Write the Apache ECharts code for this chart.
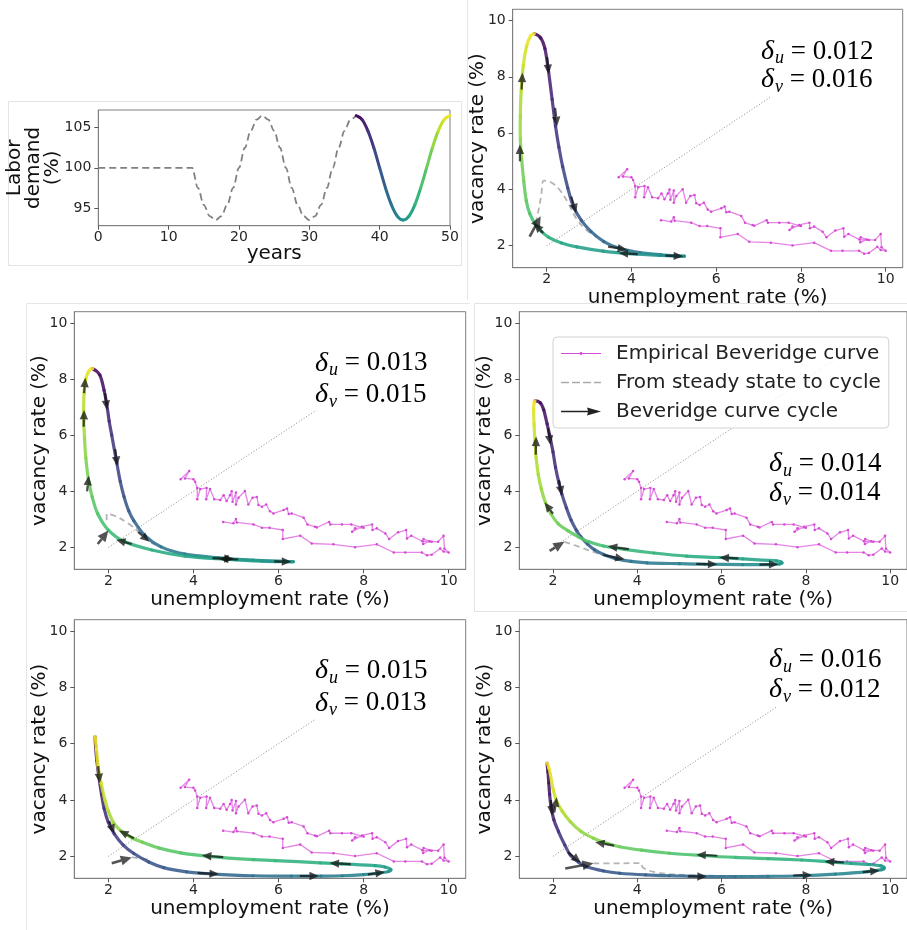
<!DOCTYPE html>
<html><head><meta charset="utf-8">
<script src="https://cdn.jsdelivr.net/npm/echarts@6/dist/echarts.min.js"></script>
<style>html,body{margin:0;padding:0;background:#fff}#c{width:907px;height:930px}</style>
</head><body><div id="c"></div>
<script>
// ---------------- DATA ----------------
// Labor demand (top-left panel)
const laborYearsDash = [0,13.33,14.17,15.0,15.83,16.67,17.5,18.33,19.17,20.0,20.83,21.67,22.5,23.33,24.17,25.0,25.83,26.67,27.5,28.33,29.17,30.0,30.83,31.67,32.5,33.33,34.17,35.0,35.83,36.67];
const laborDash      = [100,100,97.5,95.4,94.0,93.5,94.0,95.4,97.5,100,102.5,104.6,106.0,106.5,106.0,104.6,102.5,100,97.5,95.4,94.0,93.5,94.0,95.4,97.5,100,102.5,104.6,106.0,106.5];
const laborYearsCycle = [36.67,37.5,38.33,39.17,40.0,40.83,41.67,42.5,43.33,44.17,45.0,45.83,46.67,47.5,48.33,49.17,50.0];
const laborCycle      = [106.5,106.0,104.6,102.5,100,97.5,95.4,94.0,93.5,94.0,95.4,97.5,100,102.5,104.6,106.0,106.5];
const laborXTicks = [0,10,20,30,40,50];
const laborYTicks = [95,100,105];

// Empirical Beveridge curve (same in every panel)
const empU = [4.70,4.94,5.00,5.02,5.41,5.61,5.79,6.10,6.10,6.51,6.78,7.29,7.80,8.31,8.71,8.98,9.37,9.49,9.60,9.80,9.88,10.00,
  9.90,9.88,9.75,9.55,9.40,9.41,9.60,9.38,9.12,9.02,9.00,8.81,8.60,8.51,8.31,8.21,8.20,7.96,7.73,7.80,8.00,7.71,7.49,7.22,7.19,6.90,6.86,6.68,6.59,6.31,6.24,6.20,6.12,5.88,5.80,5.71,5.61,5.53,5.49,5.39,5.29,5.21,5.06,5.00,5.00,4.92,4.90,4.86,4.78,4.71,4.63,4.49,4.39,4.30,4.31,4.16,4.09,4.09,4.04,4.00,3.80,3.90,3.70];
const empV = [2.91,2.86,3.01,2.89,2.82,2.70,2.70,2.62,2.30,2.42,2.14,2.11,2.01,2.11,1.82,1.82,1.82,1.72,1.74,1.96,1.85,1.82,
  1.95,2.42,2.20,2.22,2.12,2.30,2.20,2.22,2.42,2.32,2.62,2.54,2.30,2.50,2.68,2.62,2.82,2.74,2.56,2.68,2.70,2.82,2.82,2.82,2.91,2.71,2.74,2.82,3.06,3.21,3.19,3.39,3.33,3.21,3.29,3.53,3.45,3.51,3.80,3.77,3.53,4.01,3.77,3.53,3.96,3.63,4.00,3.86,3.65,3.86,3.69,3.72,4.08,3.72,4.12,4.08,3.72,4.12,4.34,4.43,4.46,4.72,4.43];

const bevTicks = [2,4,6,8,10];
const deltaU = ['0.012','0.013','0.014','0.015','0.016'];
const deltaV = ['0.016','0.015','0.014','0.013','0.012'];
const diagEnd = [7.28,6.89,8.7,6.86,7.33];

// Cycles (start at demand peak, down the first branch, back along the return branch)
const cycleP1 = [[1.71,9.53],[1.86,9.38],[1.96,9.0],[2.04,8.25],[2.13,7.2],[2.21,6.25],[2.29,5.5],[2.38,4.8],[2.5,4.05],[2.63,3.4],[2.82,2.9],[3.05,2.5],[3.35,2.15],[3.7,1.92],[4.2,1.76],[4.7,1.68],[5.25,1.63],
  [4.66,1.66],[3.96,1.72],[3.33,1.81],[2.71,1.96],[2.35,2.1],[2.05,2.3],[1.88,2.5],[1.74,2.75],[1.6,3.15],[1.52,3.6],[1.46,4.3],[1.41,5.1],[1.38,5.8],[1.38,6.6],[1.4,7.5],[1.45,8.4],[1.53,9.1],[1.62,9.45],[1.71,9.53]];
const cycleP2 = [[1.63,8.37],[1.8,8.14],[1.9,7.6],[1.96,7.13],[2.02,6.5],[2.08,6.0],[2.2,5.0],[2.28,4.35],[2.37,3.8],[2.48,3.3],[2.6,2.95],[2.86,2.42],[3.24,2.02],[3.8,1.76],[4.6,1.63],[5.4,1.55],[6.35,1.49],
  [5.6,1.51],[4.75,1.58],[3.8,1.69],[3.02,1.91],[2.39,2.2],[2.0,2.62],[1.75,3.2],[1.62,3.8],[1.53,4.45],[1.47,5.2],[1.44,5.9],[1.42,6.7],[1.43,7.5],[1.47,8.0],[1.55,8.3],[1.63,8.37]];
const cycleP3 = [[1.57,7.22],[1.7,7.15],[1.78,6.9],[1.86,6.4],[1.92,6.0],[2.0,5.4],[2.06,4.85],[2.14,4.3],[2.21,3.9],[2.32,3.4],[2.43,2.97],[2.55,2.62],[2.66,2.38],[2.82,2.12],[2.98,1.92],[3.2,1.75],[3.45,1.62],[3.85,1.5],[4.23,1.45],[5.0,1.42],[5.6,1.4],[6.5,1.39],[7.12,1.39],[7.38,1.41],
  [7.43,1.46],[7.3,1.52],[6.5,1.59],[5.95,1.64],[5.17,1.69],[4.39,1.8],[3.7,1.93],[3.2,2.05],[2.85,2.2],[2.6,2.38],[2.35,2.6],[2.12,2.85],[1.95,3.2],[1.82,3.6],[1.72,4.1],[1.65,4.6],[1.6,5.2],[1.57,5.8],[1.55,6.4],[1.54,6.9],[1.55,7.15],[1.57,7.22]];
const cycleP4 = [[1.69,6.25],[1.7,5.9],[1.73,5.4],[1.78,4.8],[1.84,4.2],[1.9,3.7],[2.0,3.2],[2.14,2.8],[2.35,2.4],[2.6,2.1],[2.95,1.8],[3.3,1.6],[3.84,1.45],[4.4,1.38],[5.4,1.31],[6.3,1.3],[7.0,1.3],[7.5,1.31],[8.0,1.35],[8.35,1.4],[8.58,1.46],
  [8.64,1.53],[8.5,1.62],[8.27,1.67],[7.49,1.73],[6.98,1.77],[5.92,1.85],[5.41,1.88],[4.35,2.0],[3.7,2.12],[3.18,2.3],[2.8,2.5],[2.55,2.66],[2.3,2.9],[2.12,3.2],[2.0,3.6],[1.92,4.0],[1.83,4.6],[1.76,5.2],[1.72,5.8],[1.69,6.25]];
const cycleP5 = [[1.86,5.3],[1.88,5.0],[1.9,4.6],[1.92,4.2],[1.95,3.8],[2.02,3.3],[2.13,2.88],[2.28,2.4],[2.41,2.05],[2.6,1.8],[2.8,1.63],[3.2,1.48],[3.58,1.4],[4.2,1.34],[4.76,1.31],[5.5,1.29],[6.33,1.28],[7.1,1.29],[7.9,1.31],[8.7,1.37],[9.47,1.46],[9.8,1.53],
  [9.86,1.59],[9.78,1.66],[9.5,1.71],[9.07,1.75],[8.5,1.81],[7.9,1.87],[7.1,1.92],[6.33,1.96],[5.5,2.03],[4.76,2.11],[4.1,2.22],[3.58,2.34],[3.2,2.5],[2.96,2.64],[2.65,2.9],[2.41,3.23],[2.22,3.6],[2.09,3.94],[2.0,4.4],[1.94,4.89],[1.9,5.15],[1.86,5.3]];

// Transients: from steady state to cycle
const transP1 = [[1.74,2.8],[1.8,3.2],[1.87,3.75],[1.94,4.31],[2.12,4.24],[2.31,3.98],[2.51,3.51],[2.7,2.97],[2.94,2.56],[3.18,2.32]];
const transP2 = [[1.96,2.97],[1.96,3.2],[2.16,3.12],[2.47,2.85],[2.71,2.56],[2.9,2.28],[3.1,2.1]];
const transP3 = [[2.27,2.2],[2.7,1.98],[3.2,1.72],[3.5,1.62]];
const transP4 = [[2.55,1.96],[2.8,1.92],[3.02,1.86]];
const transP5 = [[2.96,1.75],[3.5,1.75],[4.09,1.76],[4.13,1.6],[4.45,1.43],[5.15,1.34],[6.33,1.29],[7.0,1.29]];

// Arrows on the cycles [u_from, v_from, u_to, v_to]
const arrowsP1 = [[1.37,5.0,1.37,5.6],[1.41,7.55,1.43,8.15],[2.01,8.7,2.05,8.1],[2.2,6.9,2.25,6.25],[2.58,3.75,2.7,3.15],[3.45,1.97,3.9,1.86],[4.15,1.7,3.7,1.74],[4.8,1.65,5.22,1.63],[1.92,2.45,1.7,2.8]];
const arrowsP2 = [[1.43,7.5,1.46,8.05],[1.42,6.3,1.43,6.9],[1.5,4.0,1.54,4.55],[1.92,7.5,1.97,6.9],[2.16,5.5,2.21,4.9],[2.55,2.12,2.18,2.27],[2.7,2.55,2.97,2.2],[4.45,1.62,4.95,1.59],[5.05,1.57,4.6,1.6],[5.9,1.5,6.3,1.49]];
const arrowsP3 = [[1.59,5.3,1.6,5.95],[2.0,3.2,1.8,3.6],[1.88,6.25,1.94,5.65],[2.14,4.4,2.21,3.85],[3.8,1.94,3.3,2.04],[3.2,1.73,3.7,1.58],[6.4,1.61,5.95,1.64],[5.4,1.41,5.9,1.4],[6.9,1.39,7.35,1.4]];
const arrowsP4 = [[1.76,5.2,1.8,4.6],[2.02,3.25,2.14,2.8],[2.6,2.64,2.25,2.92],[4.7,1.97,4.2,2.03],[7.7,1.72,7.2,1.76],[4.1,1.41,4.6,1.37],[6.5,1.3,6.95,1.3],[8.1,1.36,8.5,1.44]];
const arrowsP5 = [[2.03,3.55,2.09,4.1],[1.95,4.0,1.98,3.45],[2.35,2.15,2.66,1.78],[3.45,2.38,3.0,2.5],[5.9,2.02,5.4,2.06],[8.9,1.78,8.45,1.82],[9.35,1.44,9.75,1.5],[7.7,1.32,8.15,1.34],[5.2,1.29,5.65,1.28]];
const startArrows = [[[1.6,2.32,1.86,3.05]],[[1.75,2.12,2.0,2.6]],[[1.92,1.88,2.27,2.2]],[[2.08,1.75,2.55,1.96]],[[2.29,1.57,2.96,1.75]]];

// ---------------- HELPERS ----------------
const FONT = 'DejaVu Sans';
const VIR = ['#440154','#482475','#414487','#355f8d','#2a788e','#21918c','#22a884','#44bf70','#7ad151','#bddf26','#fde725'];
function h2r(h){return [parseInt(h.slice(1,3),16),parseInt(h.slice(3,5),16),parseInt(h.slice(5,7),16)];}
function vir(t){t=Math.max(0,Math.min(1,t));const x=t*10;const i=Math.min(9,Math.floor(x));const f=x-i;const a=h2r(VIR[i]),b=h2r(VIR[i+1]);return 'rgb('+a.map((v,k)=>Math.round(v+(b[k]-v)*f)).join(',')+')';}

function smoothRender(pts, closed, width, opacity){
  return function(params, api){
    const n = pts.length, i = params.dataIndex;
    if (i >= n-1) return null;
    const idx = k => { if (closed){ const m=n-1; return ((k%m)+m)%m; } return Math.max(0,Math.min(n-1,k)); };
    const c = k => api.coord(pts[idx(k)]);
    const p0=c(i-1), p1=c(i), p2=c(i+1), p3=c(i+2);
    const cp1=[p1[0]+(p2[0]-p0[0])/6, p1[1]+(p2[1]-p0[1])/6];
    const cp2=[p2[0]-(p3[0]-p1[0])/6, p2[1]-(p3[1]-p1[1])/6];
    return {type:'bezierCurve', shape:{x1:p1[0],y1:p1[1],x2:p2[0],y2:p2[1],cpx1:cp1[0],cpy1:cp1[1],cpx2:cp2[0],cpy2:cp2[1]},
      style:{stroke:vir((i+0.5)/(n-1)), lineWidth:width, fill:'none', lineCap:'round', opacity:opacity}};
  };
}
function arrowRender(headLen, headW, shaftW, op){
  return function(params, api){
    const a=api.coord([api.value(0),api.value(1)]), b=api.coord([api.value(2),api.value(3)]);
    const dx=b[0]-a[0], dy=b[1]-a[1], L=Math.hypot(dx,dy)||1, ux=dx/L, uy=dy/L, nx=-uy, ny=ux;
    const bx=b[0]-ux*headLen, by=b[1]-uy*headLen;
    return {type:'group', children:[
      {type:'line', shape:{x1:a[0],y1:a[1],x2:bx,y2:by}, style:{stroke:'#111',lineWidth:shaftW,opacity:op}},
      {type:'polygon', shape:{points:[[b[0],b[1]],[bx+nx*headW,by+ny*headW],[bx-nx*headW,by-ny*headW]]}, style:{fill:'#111',opacity:op}}
    ]};
  };
}

// ---------------- LAYOUT ----------------
const gridBoxes = [[98.3,110,351.7,115.7],[512.7,9.3,390,258.4],[74.3,311.7,391.4,257.6],[519.3,311.7,390,257.6],[74.3,619.7,391.4,258.6],[519.3,619.7,390,258.6]];
const deltaPos = [[761,51.7,80],[315,363.3,395],[769,464,493.3],[315,671,703.3],[769,660,690]];

const grids = gridBoxes.map(g => ({left:g[0], top:g[1], width:g[2], height:g[3], show:true, borderColor:'#7f7f7f', borderWidth:1, containLabel:false}));

const axLabel = {fontSize:14, color:'#262626', fontFamily:FONT};
const xAxes = [], yAxes = [];
xAxes.push({type:'value', gridIndex:0, min:0, max:50, interval:10, name:'years', nameLocation:'middle', nameGap:18, nameMoveOverlap:false,
  nameTextStyle:{fontSize:20, color:'#111', fontFamily:FONT},
  axisLine:{show:true, lineStyle:{color:'#7f7f7f'}}, axisTick:{show:true, length:4, lineStyle:{color:'#555'}, customValues:laborXTicks},
  axisLabel:Object.assign({margin:5, customValues:laborXTicks}, axLabel), splitLine:{show:false}});
yAxes.push({type:'value', gridIndex:0, min:92.8, max:107.2, name:'Labor\ndemand\n(%)', nameLocation:'middle', nameGap:36, nameMoveOverlap:false,
  nameTextStyle:{fontSize:20, color:'#111', fontFamily:FONT, lineHeight:19},
  axisLine:{show:true, lineStyle:{color:'#7f7f7f'}}, axisTick:{show:true, length:4, lineStyle:{color:'#555'}, customValues:laborYTicks},
  axisLabel:Object.assign({margin:7, customValues:laborYTicks}, axLabel), splitLine:{show:false}});
for (let p=1;p<=5;p++){
  xAxes.push({type:'value', gridIndex:p, min:1.2, max:10.4, name:'unemployment rate (%)', nameLocation:'middle', nameGap:20, nameMoveOverlap:false,
    nameTextStyle:{fontSize:20, color:'#111', fontFamily:FONT},
    axisLine:{show:true, lineStyle:{color:'#7f7f7f'}}, axisTick:{show:true, length:4, lineStyle:{color:'#555'}, customValues:bevTicks},
    axisLabel:Object.assign({margin:5, customValues:bevTicks}, axLabel), splitLine:{show:false}});
  yAxes.push({type:'value', gridIndex:p, min:1.22, max:10.4, name:'vacancy rate (%)', nameLocation:'middle', nameGap:25, nameMoveOverlap:false,
    nameTextStyle:{fontSize:20, color:'#111', fontFamily:FONT},
    axisLine:{show:true, lineStyle:{color:'#7f7f7f'}}, axisTick:{show:true, length:4, lineStyle:{color:'#555'}, customValues:bevTicks},
    axisLabel:Object.assign({margin:7, customValues:bevTicks}, axLabel), splitLine:{show:false}});
}

// ---------------- SERIES ----------------
const series = [];
const laborDashData = laborYearsDash.map((t,i)=>[t, laborDash[i]]);
const laborCycleData = laborYearsCycle.map((t,i)=>[t, laborCycle[i]]);
series.push({type:'line', xAxisIndex:0, yAxisIndex:0, data:laborDashData, smooth:0.35, smoothMonotone:'x', symbol:'none',
  lineStyle:{color:'#808080', width:1.8, type:[7,4]}, silent:true, z:2});
series.push({type:'custom', xAxisIndex:0, yAxisIndex:0, data:laborCycleData, renderItem:smoothRender(laborCycleData,false,3,1), silent:true, z:3});

const empData = empU.map((u,i)=>[u, empV[i]]);
const cycles = [cycleP1,cycleP2,cycleP3,cycleP4,cycleP5];
const trans = [transP1,transP2,transP3,transP4,transP5];
const arrows = [arrowsP1,arrowsP2,arrowsP3,arrowsP4,arrowsP5];
for (let p=1;p<=5;p++){
  const k=p-1;
  series.push({type:'line', xAxisIndex:p, yAxisIndex:p, data:[[2,2],[diagEnd[k],diagEnd[k]]], symbol:'none',
    lineStyle:{color:'#8a8a8a', width:1, type:[1,2]}, silent:true, z:1});
  series.push({type:'line', name:'Empirical Beveridge curve', xAxisIndex:p, yAxisIndex:p, data:empData, symbol:'circle', symbolSize:2.5, showAllSymbol:true,
    lineStyle:{color:'#e585e5', width:1.3}, itemStyle:{color:'#d44ad4'}, silent:true, z:2});
  series.push({type:'line', name:'From steady state to cycle', xAxisIndex:p, yAxisIndex:p, data:trans[k], smooth:0.4, symbol:'none',
    lineStyle:{color:'#b4b4b4', width:1.8, type:[6,4]}, itemStyle:{color:'#aaaaaa'}, silent:true, z:3});
  series.push({type:'custom', xAxisIndex:p, yAxisIndex:p, data:cycles[k], renderItem:smoothRender(cycles[k],true,3.2,0.88), silent:true, z:4});
  series.push({type:'custom', name:'Beveridge curve cycle', xAxisIndex:p, yAxisIndex:p, data:arrows[k], encode:{x:[0,2], y:[1,3]},
    itemStyle:{color:'#222'}, renderItem:arrowRender(9.5,4.2,2.2,0.75), silent:true, z:5});
  series.push({type:'custom', xAxisIndex:p, yAxisIndex:p, data:startArrows[k], encode:{x:[0,2], y:[1,3]},
    renderItem:arrowRender(11,5,2.6,0.72), silent:true, z:5});
}

// ---------------- GRAPHICS (annotations, faint frames) ----------------
const graphic = [];
const frameStyle = {stroke:'#e3e3e3', lineWidth:1, fill:'none'};
graphic.push({type:'rect', shape:{x:8.5,y:101.5,width:453,height:164}, style:frameStyle, silent:true});
graphic.push({type:'line', shape:{x1:467.5,y1:0,x2:467.5,y2:300}, style:{stroke:'#e6e6e6',lineWidth:1}, silent:true});
graphic.push({type:'line', shape:{x1:26.5,y1:303.5,x2:470,y2:303.5}, style:{stroke:'#e6e6e6',lineWidth:1}, silent:true});
graphic.push({type:'line', shape:{x1:26.5,y1:303.5,x2:26.5,y2:930}, style:{stroke:'#e6e6e6',lineWidth:1}, silent:true});
graphic.push({type:'rect', shape:{x:474.5,y:303.5,width:440,height:308}, style:frameStyle, silent:true});
const rich = {
  d:{fontFamily:'Liberation Serif', fontStyle:'italic', fontSize:28, color:'#111'},
  s:{fontFamily:'Liberation Serif', fontStyle:'italic', fontSize:18, color:'#111', padding:[14,0,0,1]},
  e:{fontFamily:'Liberation Serif', fontSize:27, color:'#111'}
};
deltaPos.forEach((pos,k)=>{
  graphic.push({type:'text', x:pos[0], y:pos[1], silent:true, z:10, style:{text:'{d|δ}{s|u}{e| = '+deltaU[k]+'}', rich:rich, verticalAlign:'middle', align:'left'}});
  graphic.push({type:'text', x:pos[0], y:pos[2], silent:true, z:10, style:{text:'{d|δ}{s|v}{e| = '+deltaV[k]+'}', rich:rich, verticalAlign:'middle', align:'left'}});
});

const ICON_EMP = 'path://M0,0 L0.01,0 L0,0.01 Z M40,12 L39.99,12 L40,11.99 Z M0,5.4 L40,5.4 L40,6.6 L0,6.6 Z M18.6,6 A1.4,1.4 0 1 1 21.4,6 A1.4,1.4 0 1 1 18.6,6 Z';
const ICON_DASH = 'path://M0,0 L0.01,0 L0,0.01 Z M40,12 L39.99,12 L40,11.99 Z M0,5.2 L8,5.2 L8,6.8 L0,6.8 Z M11,5.2 L19,5.2 L19,6.8 L11,6.8 Z M22,5.2 L30,5.2 L30,6.8 L22,6.8 Z M33,5.2 L40,5.2 L40,6.8 L33,6.8 Z';
const ICON_ARROW = 'path://M0,0 L0.01,0 L0,0.01 Z M40,12 L39.99,12 L40,11.99 Z M0,5.3 L27,5.3 L26,2 L40,6 L26,10 L27,6.7 L0,6.7 Z';

const option = {
  animation:false,
  backgroundColor:'#ffffff',
  grid:grids, xAxis:xAxes, yAxis:yAxes, series:series, graphic:graphic,
  legend:{show:true, selectedMode:false, orient:'vertical', left:553, top:337, z:8,
    backgroundColor:'rgba(255,255,255,0.82)', borderColor:'#d2d2d2', borderWidth:1, borderRadius:4,
    padding:[5,8,5,8], itemGap:6, itemWidth:40, itemHeight:12,
    textStyle:{fontSize:20, lineHeight:23, color:'#222', fontFamily:FONT, padding:[0,0,0,10]},
    data:[{name:'Empirical Beveridge curve', icon:ICON_EMP},{name:'From steady state to cycle', icon:ICON_DASH},{name:'Beveridge curve cycle', icon:ICON_ARROW}]}
};
const chart = echarts.init(document.getElementById('c'), null, {renderer:'canvas', width:907, height:930});
chart.setOption(option);
</script></body></html>
